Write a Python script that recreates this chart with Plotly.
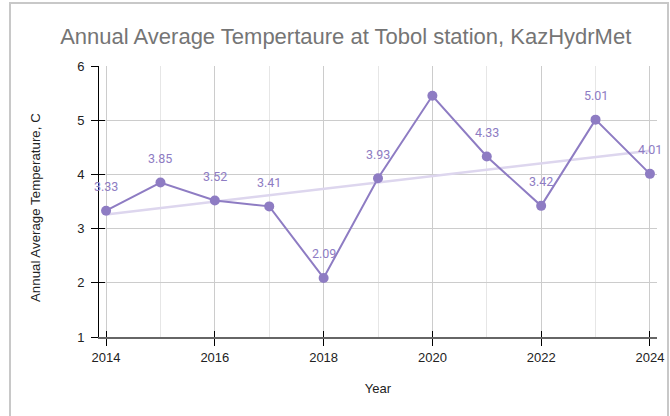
import numpy as np
import plotly.graph_objects as go

years = [2014, 2015, 2016, 2017, 2018, 2019, 2020, 2021, 2022, 2023, 2024]
temps = [3.33, 3.85, 3.52, 3.41, 2.09, 3.93, 5.45, 4.33, 3.42, 5.01, 4.01]
labels = ["3.33", "3.85", "3.52", "3.41", "2.09", "3.93", "", "4.33", "3.42", "5.01", "4.01"]
y_ticks = [1, 2, 3, 4, 5, 6]
x_ticks = [2014, 2016, 2018, 2020, 2022, 2024]

PURPLE = "#8e7cc3"
TREND = "#ddd6ee"
FONT = "Liberation Sans, Arial"

slope, intercept = np.polyfit(years, temps, 1)
trend_x = [years[0], years[-1]]
trend_y = [slope * x + intercept for x in trend_x]

fig = go.Figure()
fig.add_trace(go.Scatter(x=trend_x, y=trend_y, mode="lines",
                         line=dict(color=TREND, width=2.5), hoverinfo="skip",
                         showlegend=False))
fig.add_trace(go.Scatter(x=years, y=temps, mode="lines+markers",
                         line=dict(color=PURPLE, width=2),
                         marker=dict(color=PURPLE, size=10),
                         showlegend=False))

for x, y, t in zip(years, temps, labels):
    if t:
        fig.add_annotation(x=x, y=y, text=t, showarrow=False, yshift=24,
                           font=dict(family="Roboto", size=12.5, color=PURPLE))

# y-axis title
fig.add_annotation(text="Annual Average Temperature, C", textangle=-90,
                   xref="paper", yref="paper", x=(35 - 99) / 558, y=(337 - 208) / 271,
                   xanchor="center", yanchor="middle", showarrow=False,
                   font=dict(family=FONT, size=13.3, color="#222222"))

# overlay axes for the inside half of crossing ticks
fig.update_layout(
    xaxis2=dict(overlaying="x", matches="x", side="bottom", ticks="inside",
                ticklen=6, tickcolor="black", tickvals=x_ticks, automargin=False,
                showticklabels=False, showgrid=False, showline=False, zeroline=False),
    yaxis2=dict(overlaying="y", matches="y", side="left", ticks="inside",
                ticklen=6, tickcolor="black", tickvals=y_ticks, automargin=False,
                showticklabels=False, showgrid=False, showline=False, zeroline=False),
)
fig.add_trace(go.Scatter(x=[years[0]], y=[temps[0]], xaxis="x2", yaxis="y2",
                         mode="markers", marker=dict(opacity=0), hoverinfo="skip",
                         showlegend=False))

fig.update_layout(
    width=670, height=416,
    margin=dict(l=99, r=13, t=66, b=79),
    paper_bgcolor="white", plot_bgcolor="white",
    title=dict(text="Annual Average Tempertaure at Tobol station, KazHydrMet",
               x=0.516, xref="container", xanchor="center",
               y=1 - 36 / 416, yref="container", yanchor="middle",
               font=dict(family=FONT, size=22, color="#757575")),
    xaxis=dict(range=[2013.87, 2024.13], tickvals=x_ticks, automargin=False,
               ticks="outside", ticklen=7, tickcolor="black",
               showline=True, linecolor="#666666", linewidth=2,
               showgrid=True, gridcolor="#cccccc", gridwidth=1,
               minor=dict(dtick=1, tick0=2014, showgrid=True, gridcolor="#e6e6e6", ticks=""),
               zeroline=False,
               tickfont=dict(family=FONT, size=13, color="#222222"),
               title=dict(text="Year", standoff=20,
                          font=dict(family=FONT, size=13, color="#222222"))),
    yaxis=dict(range=[1, 6], tickvals=y_ticks, automargin=False,
               ticks="outside", ticklen=7, tickcolor="black",
               showline=True, linecolor="black", linewidth=1,
               showgrid=True, gridcolor="#cccccc", gridwidth=1,
               zeroline=False, ticklabelstandoff=4,
               tickfont=dict(family=FONT, size=13, color="#222222")),
)

# outer frame (top and left edges visible in the window)
fx0 = (10 - 99) / 558
fy1 = (337 - 3) / 271
fig.add_shape(type="rect", xref="paper", yref="paper",
              x0=fx0, x1=(668 - 99) / 558, y0=(337 - 430) / 271, y1=fy1,
              line=dict(color="#c8c8c8", width=2), fillcolor="rgba(0,0,0,0)",
              layer="below")

fig.write_html("out.html", config={"displayModeBar": False},
               post_script="document.body.style.margin='0'; document.body.style.overflow='hidden'; window.scrollTo(0,0);")
